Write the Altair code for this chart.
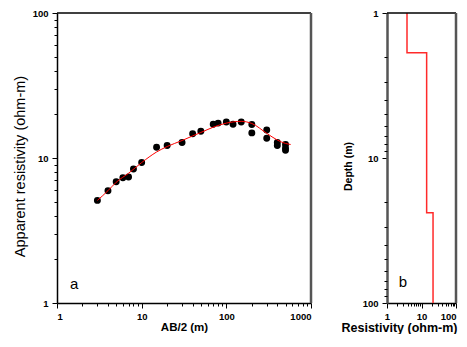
import altair as alt
import pandas as pd

# ---- measured sounding (panel a) ----
ab2 = [3, 4, 5, 6, 7, 8, 10, 15, 20, 30, 40, 50, 70, 80, 100, 120, 150,
       200, 200, 300, 300, 400, 400, 500, 500, 500]
rho_a = [5.1, 5.95, 6.85, 7.3, 7.4, 8.4, 9.3, 11.85, 12.2, 12.8, 14.7, 15.3,
         17.1, 17.4, 17.7, 17.1, 17.7, 17.0, 14.9, 15.6, 13.7, 12.8, 12.2,
         12.4, 11.7, 11.3]

# ---- fitted curve (panel a) ----
fit_ab2 = [3, 4, 5, 7, 10, 15, 20, 30, 40, 50, 70, 100, 150, 200, 300, 400, 500, 575]
fit_rho = [5.1, 5.95, 6.8, 7.85, 9.3, 11.0, 12.0, 13.2, 14.2, 15.0, 16.3, 17.4,
           17.9, 17.3, 14.8, 13.3, 12.6, 12.4]

# ---- layered model (panel b) ----
model_res = [3.8, 3.8, 14.1, 14.1, 21.6, 21.6]
model_depth = [1, 1.88, 1.88, 23.9, 23.9, 100]
model_order = [0, 1, 2, 3, 4, 5]

# ---- axis ticks ----
major_a_x = [1, 10, 100, 1000]
minor_a_x = [2, 3, 4, 5, 6, 7, 8, 9, 20, 30, 40, 50, 60, 70, 80, 90,
             200, 300, 400, 500, 600, 700, 800, 900]
major_2dec = [1, 10, 100]
minor_2dec = [2, 3, 4, 5, 6, 7, 8, 9, 20, 30, 40, 50, 60, 70, 80, 90]

FONT = "Liberation Sans"
W_A, W_B, H = 254, 69, 290
LBL = "format(datum.value, 'd')"


def major_axis(title, values, orient, **kw):
    return alt.Axis(title=title, values=values, labelExpr=LBL, tickSize=5,
                    orient=orient, **kw)


def minor_axis(values, orient):
    return alt.Axis(title=None, values=values, labels=False, domain=False,
                    tickSize=3, orient=orient)


pts = pd.DataFrame({"ab2": ab2, "rho": rho_a})
fit = pd.DataFrame({"ab2": fit_ab2, "rho": fit_rho})
lab_a = pd.DataFrame({"ab2": [1.59], "rho": [1.35], "t": ["a"]})
one = pd.DataFrame({"d": [0]})

sxa = alt.Scale(type="log", domain=[1, 1000])
sya = alt.Scale(type="log", domain=[1, 100])

xa_major = alt.X("ab2:Q", scale=sxa,
                 axis=major_axis("AB/2 (m)", major_a_x, "bottom", titleFontSize=11.5,
                                 titleFontWeight="bold", titlePadding=1, labelPadding=3))
ya_major = alt.Y("rho:Q", scale=sya,
                 axis=major_axis("Apparent resistivity (ohm-m)", major_2dec, "left",
                                 titleFontSize=14.5, titleFontWeight="normal",
                                 titlePadding=5, titleY=153))
xa_plain = alt.X("ab2:Q", scale=sxa, axis=None)
ya_plain = alt.Y("rho:Q", scale=sya, axis=None)

points = alt.Chart(pts).mark_circle(size=48, color="black", opacity=1).encode(
    x=xa_major, y=ya_major)
minor_a = alt.Chart(pts).mark_point(opacity=0).encode(
    x=alt.X("ab2:Q", scale=sxa, axis=minor_axis(minor_a_x, "bottom")),
    y=alt.Y("rho:Q", scale=sya, axis=minor_axis(minor_2dec, "left")))
curve = alt.Chart(fit).mark_line(color="#ff0000", strokeWidth=1,
                                 interpolate="monotone").encode(x=xa_plain, y=ya_plain)
text_a = alt.Chart(lab_a).mark_text(font=FONT, fontSize=15, color="black",
                                    align="center", baseline="middle").encode(
    x=xa_plain, y=ya_plain, text="t:N")
top_a = alt.Chart(one).mark_rule(color="black", strokeWidth=1.5).encode(y=alt.value(0))
right_a = alt.Chart(one).mark_rule(color="#555555", strokeWidth=2.5).encode(x=alt.value(W_A))

left = alt.layer(points, minor_a, curve, text_a, top_a, right_a).resolve_axis(
    x="independent", y="independent").properties(width=W_A, height=H)

# ---- panel b ----
mod = pd.DataFrame({"res": model_res, "depth": model_depth, "o": model_order})
lab_b = pd.DataFrame({"res": [2.9], "depth": [72.0], "t": ["b"]})

sxb = alt.Scale(type="log", domain=[1, 100])
syb = alt.Scale(type="log", domain=[1, 100], reverse=True)

xb_major = alt.X("res:Q", scale=sxb,
                 axis=major_axis("Resistivity (ohm-m)", major_2dec, "bottom",
                                 titleFontSize=12.5, titleFontWeight="bold",
                                 titlePadding=1, titleX=12, labelPadding=3,
                                 labelAlign={"condition": {"test": "datum.value == 100",
                                                           "value": "right"},
                                             "value": "center"}))
yb_major = alt.Y("depth:Q", scale=syb,
                 axis=major_axis("Depth (m)", major_2dec, "left", titleFontSize=10.5,
                                 titleFontWeight="bold", titlePadding=9, titleY=153,
                                 domainColor="#555555", domainWidth=2.5))
xb_plain = alt.X("res:Q", scale=sxb, axis=None)
yb_plain = alt.Y("depth:Q", scale=syb, axis=None)

step = alt.Chart(mod).mark_line(color="#ff2a2a", strokeWidth=1.5).encode(
    x=xb_major, y=yb_major, order=alt.Order("o:Q"))
minor_b = alt.Chart(mod).mark_point(opacity=0).encode(
    x=alt.X("res:Q", scale=sxb, axis=minor_axis(minor_2dec, "bottom")),
    y=alt.Y("depth:Q", scale=syb, axis=minor_axis(minor_2dec, "left")))
text_b = alt.Chart(lab_b).mark_text(font=FONT, fontSize=15, color="black",
                                    align="center", baseline="middle").encode(
    x=xb_plain, y=yb_plain, text="t:N")
top_b = alt.Chart(one).mark_rule(color="black", strokeWidth=1.5).encode(y=alt.value(0))
right_b = alt.Chart(one).mark_rule(color="#555555", strokeWidth=2.5).encode(x=alt.value(W_B))

right = alt.layer(step, minor_b, text_b, top_b, right_b).resolve_axis(
    x="independent", y="independent").properties(width=W_B, height=H)

chart = alt.hconcat(left, right, spacing=28).properties(
    padding={"left": 4, "top": 0, "right": 0, "bottom": 0}
).configure_view(stroke=None).configure_axis(
    grid=False,
    labelFont=FONT, labelFontSize=9.5, labelFontWeight="bold", labelColor="black",
    labelPadding=4,
    titleFont=FONT, titleColor="black",
    domainColor="black", domainWidth=1.5,
    tickColor="black", tickWidth=1,
)

chart.save("out.html", embed_options={"renderer": "svg", "actions": False})
